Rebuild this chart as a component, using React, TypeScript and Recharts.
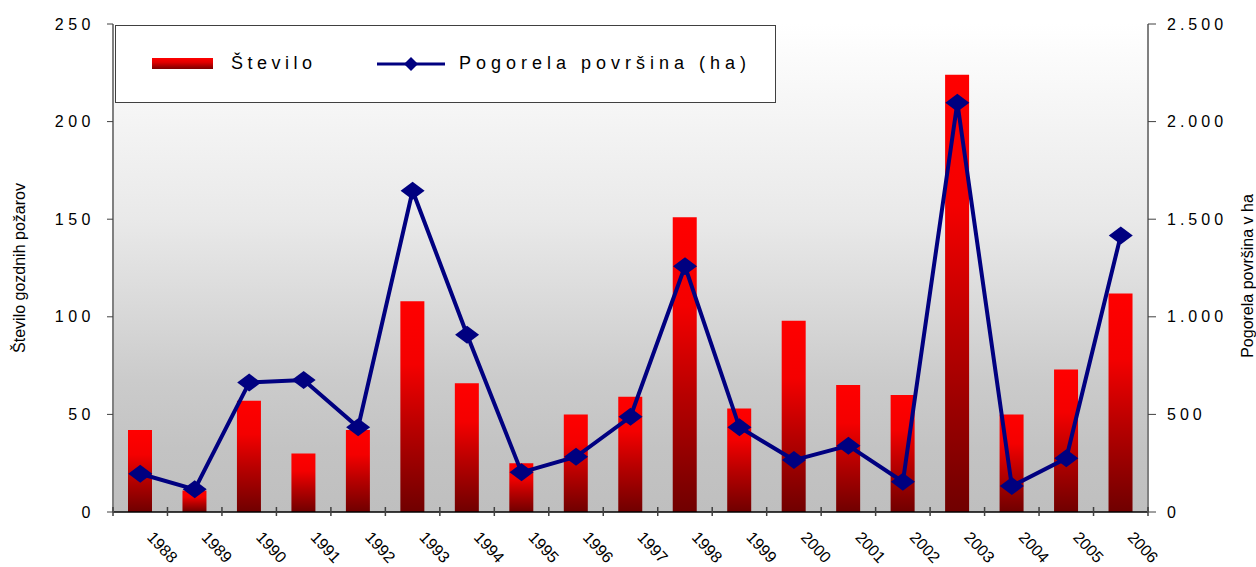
import { ComposedChart, Bar, Line, XAxis, YAxis, CartesianGrid } from "recharts"

const years = [
  "1988", "1989", "1990", "1991", "1992", "1993", "1994", "1995", "1996", "1997",
  "1998", "1999", "2000", "2001", "2002", "2003", "2004", "2005", "2006",
]
// število gozdnih požarov
const stevilo = [42, 11, 57, 30, 42, 108, 66, 25, 50, 59, 151, 53, 98, 65, 60, 224, 50, 73, 112]
// pogorela površina (ha)
const povrsina = [196, 116, 663, 676, 434, 1646, 908, 203, 283, 488, 1259, 434, 266, 340, 155, 2097, 133, 275, 1417]

const leftTicks = [0, 50, 100, 150, 200, 250]
const rightTicks = [0, 500, 1000, 1500, 2000, 2500]

const data = years.map((year, i) => ({ year, stevilo: stevilo[i], povrsina: povrsina[i] }))

// chart is pinned to the page corner so it fills the 1256x567 window exactly
const W = 1256
const H = 567
const TOP = 24
const LEFT_W = 113
const RIGHT_W = 108
const X_H = 55
const BAND = (W - LEFT_W - RIGHT_W) / years.length
const FONT = "Arial, 'Liberation Sans', sans-serif"

const fmtDot = (v: number) => String(v).replace(/\B(?=(\d{3})+(?!\d))/g, ".")

function YearTick(props: any) {
  const { x, y, payload, index } = props
  const half = BAND / 2
  const tx = x + 6
  const ty = y + 26
  return (
    <g>
      <line x1={x - half} x2={x - half} y1={y - 5} y2={y + 4} stroke="#404040" strokeWidth={1.5} />
      {index === years.length - 1 && (
        <line x1={x + half} x2={x + half} y1={y - 5} y2={y + 4} stroke="#404040" strokeWidth={1.5} />
      )}
      <text x={tx} y={ty} transform={`rotate(47, ${tx}, ${ty})`} fontSize={16} fontFamily={FONT} fill="#000">
        {payload.value}
      </text>
    </g>
  )
}

function Diamond(props: any) {
  const { cx, cy } = props
  if (cx == null || cy == null) return null
  return <polygon points={`${cx - 12},${cy} ${cx},${cy - 9} ${cx + 12},${cy} ${cx},${cy + 9}`} fill="#000080" />
}

function LeftTitle() {
  const cx = 19
  const cy = TOP + (H - TOP - X_H) / 2
  return (
    <text x={cx} y={cy} transform={`rotate(-90, ${cx}, ${cy})`} textAnchor="middle" dominantBaseline="central" fontSize={16} fontFamily={FONT} fill="#000">
      Število gozdnih požarov
    </text>
  )
}

function RightTitle() {
  const cx = W - 9
  const cy = TOP + (H - TOP - X_H) / 2 + 8
  return (
    <text x={cx} y={cy} transform={`rotate(-90, ${cx}, ${cy})`} textAnchor="middle" dominantBaseline="central" fontSize={16} fontFamily={FONT} fill="#000">
      Pogorela površina v ha
    </text>
  )
}

function LegendBox() {
  return (
    <svg width={662} height={79} style={{ position: "absolute", left: 115, top: 25 }}>
      <defs>
        <linearGradient id="legGrad" x1="0" y1="0" x2="0" y2="1">
          <stop offset="0" stopColor="#ff0000" />
          <stop offset="0.4" stopColor="#e00000" />
          <stop offset="1" stopColor="#7a0000" />
        </linearGradient>
      </defs>
      <rect x={0.5} y={0.5} width={660} height={77} fill="#fff" stroke="#404040" />
      <rect x={37} y={33} width={61} height={11} fill="url(#legGrad)" />
      <text x={116} y={44} fontSize={18} letterSpacing={4.5} fontFamily={FONT} fill="#000">Število</text>
      <line x1={262} x2={330} y1={39} y2={39} stroke="#000080" strokeWidth={3} />
      <polygon points="289,39 296,32 303,39 296,46" fill="#000080" />
      <text x={344} y={44} fontSize={18} letterSpacing={5} fontFamily={FONT} fill="#000">Pogorela površina (ha)</text>
    </svg>
  )
}

export default function App() {
  return (
    <div style={{ position: "absolute", left: 0, top: 0, width: W, height: H, fontFamily: FONT }}>
      <ComposedChart width={W} height={H} data={data} margin={{ top: TOP, right: 0, bottom: 0, left: 0 }}>
        <defs>
          <linearGradient id="bgGrad" x1="0" y1="0" x2="0" y2="1">
            <stop offset="0" stopColor="#ffffff" />
            <stop offset="0.4" stopColor="#e9e9e9" />
            <stop offset="0.57" stopColor="#dadada" />
            <stop offset="0.73" stopColor="#cbcbcb" />
            <stop offset="0.87" stopColor="#c3c3c3" />
            <stop offset="1" stopColor="#bfbfbf" />
          </linearGradient>
          <linearGradient id="barGrad" x1="0" y1="0" x2="0" y2="1">
            <stop offset="0" stopColor="#ff0000" />
            <stop offset="0.3" stopColor="#f40000" />
            <stop offset="0.6" stopColor="#b80000" />
            <stop offset="1" stopColor="#700000" />
          </linearGradient>
        </defs>
        <CartesianGrid horizontal={false} vertical={false} fill="url(#bgGrad)" fillOpacity={1} />
        <XAxis
          dataKey="year"
          xAxisId="x"
          height={X_H}
          interval={0}
          tickLine={false}
          tickSize={0}
          tickMargin={0}
          tick={<YearTick />}
          axisLine={{ stroke: "#000", strokeWidth: 1.5 }}
        />
        <YAxis
          yAxisId="left"
          orientation="left"
          width={LEFT_W}
          domain={[0, 250]}
          ticks={leftTicks}
          interval={0}
          tickSize={6}
          tickMargin={12}
          tick={{ fontSize: 16, fill: "#000", letterSpacing: 4.5, fontFamily: FONT }}
          tickLine={{ stroke: "#404040" }}
          axisLine={{ stroke: "#808080", strokeWidth: 2 }}
        />
        <YAxis
          yAxisId="right"
          orientation="right"
          width={RIGHT_W}
          domain={[0, 2500]}
          ticks={rightTicks}
          interval={0}
          tickSize={8}
          tickMargin={11}
          tickFormatter={fmtDot}
          tick={{ fontSize: 16, fill: "#000", letterSpacing: 4, fontFamily: FONT }}
          tickLine={{ stroke: "#404040" }}
          axisLine={{ stroke: "#808080", strokeWidth: 2 }}
        />
        <Bar dataKey="stevilo" xAxisId="x" yAxisId="left" barSize={24} fill="url(#barGrad)" isAnimationActive={false} />
        <Line
          dataKey="povrsina"
          xAxisId="x"
          yAxisId="right"
          type="linear"
          stroke="#000080"
          strokeWidth={4}
          dot={<Diamond />}
          activeDot={false}
          isAnimationActive={false}
        />
        <LeftTitle />
        <RightTitle />
      </ComposedChart>
      <LegendBox />
    </div>
  )
}
